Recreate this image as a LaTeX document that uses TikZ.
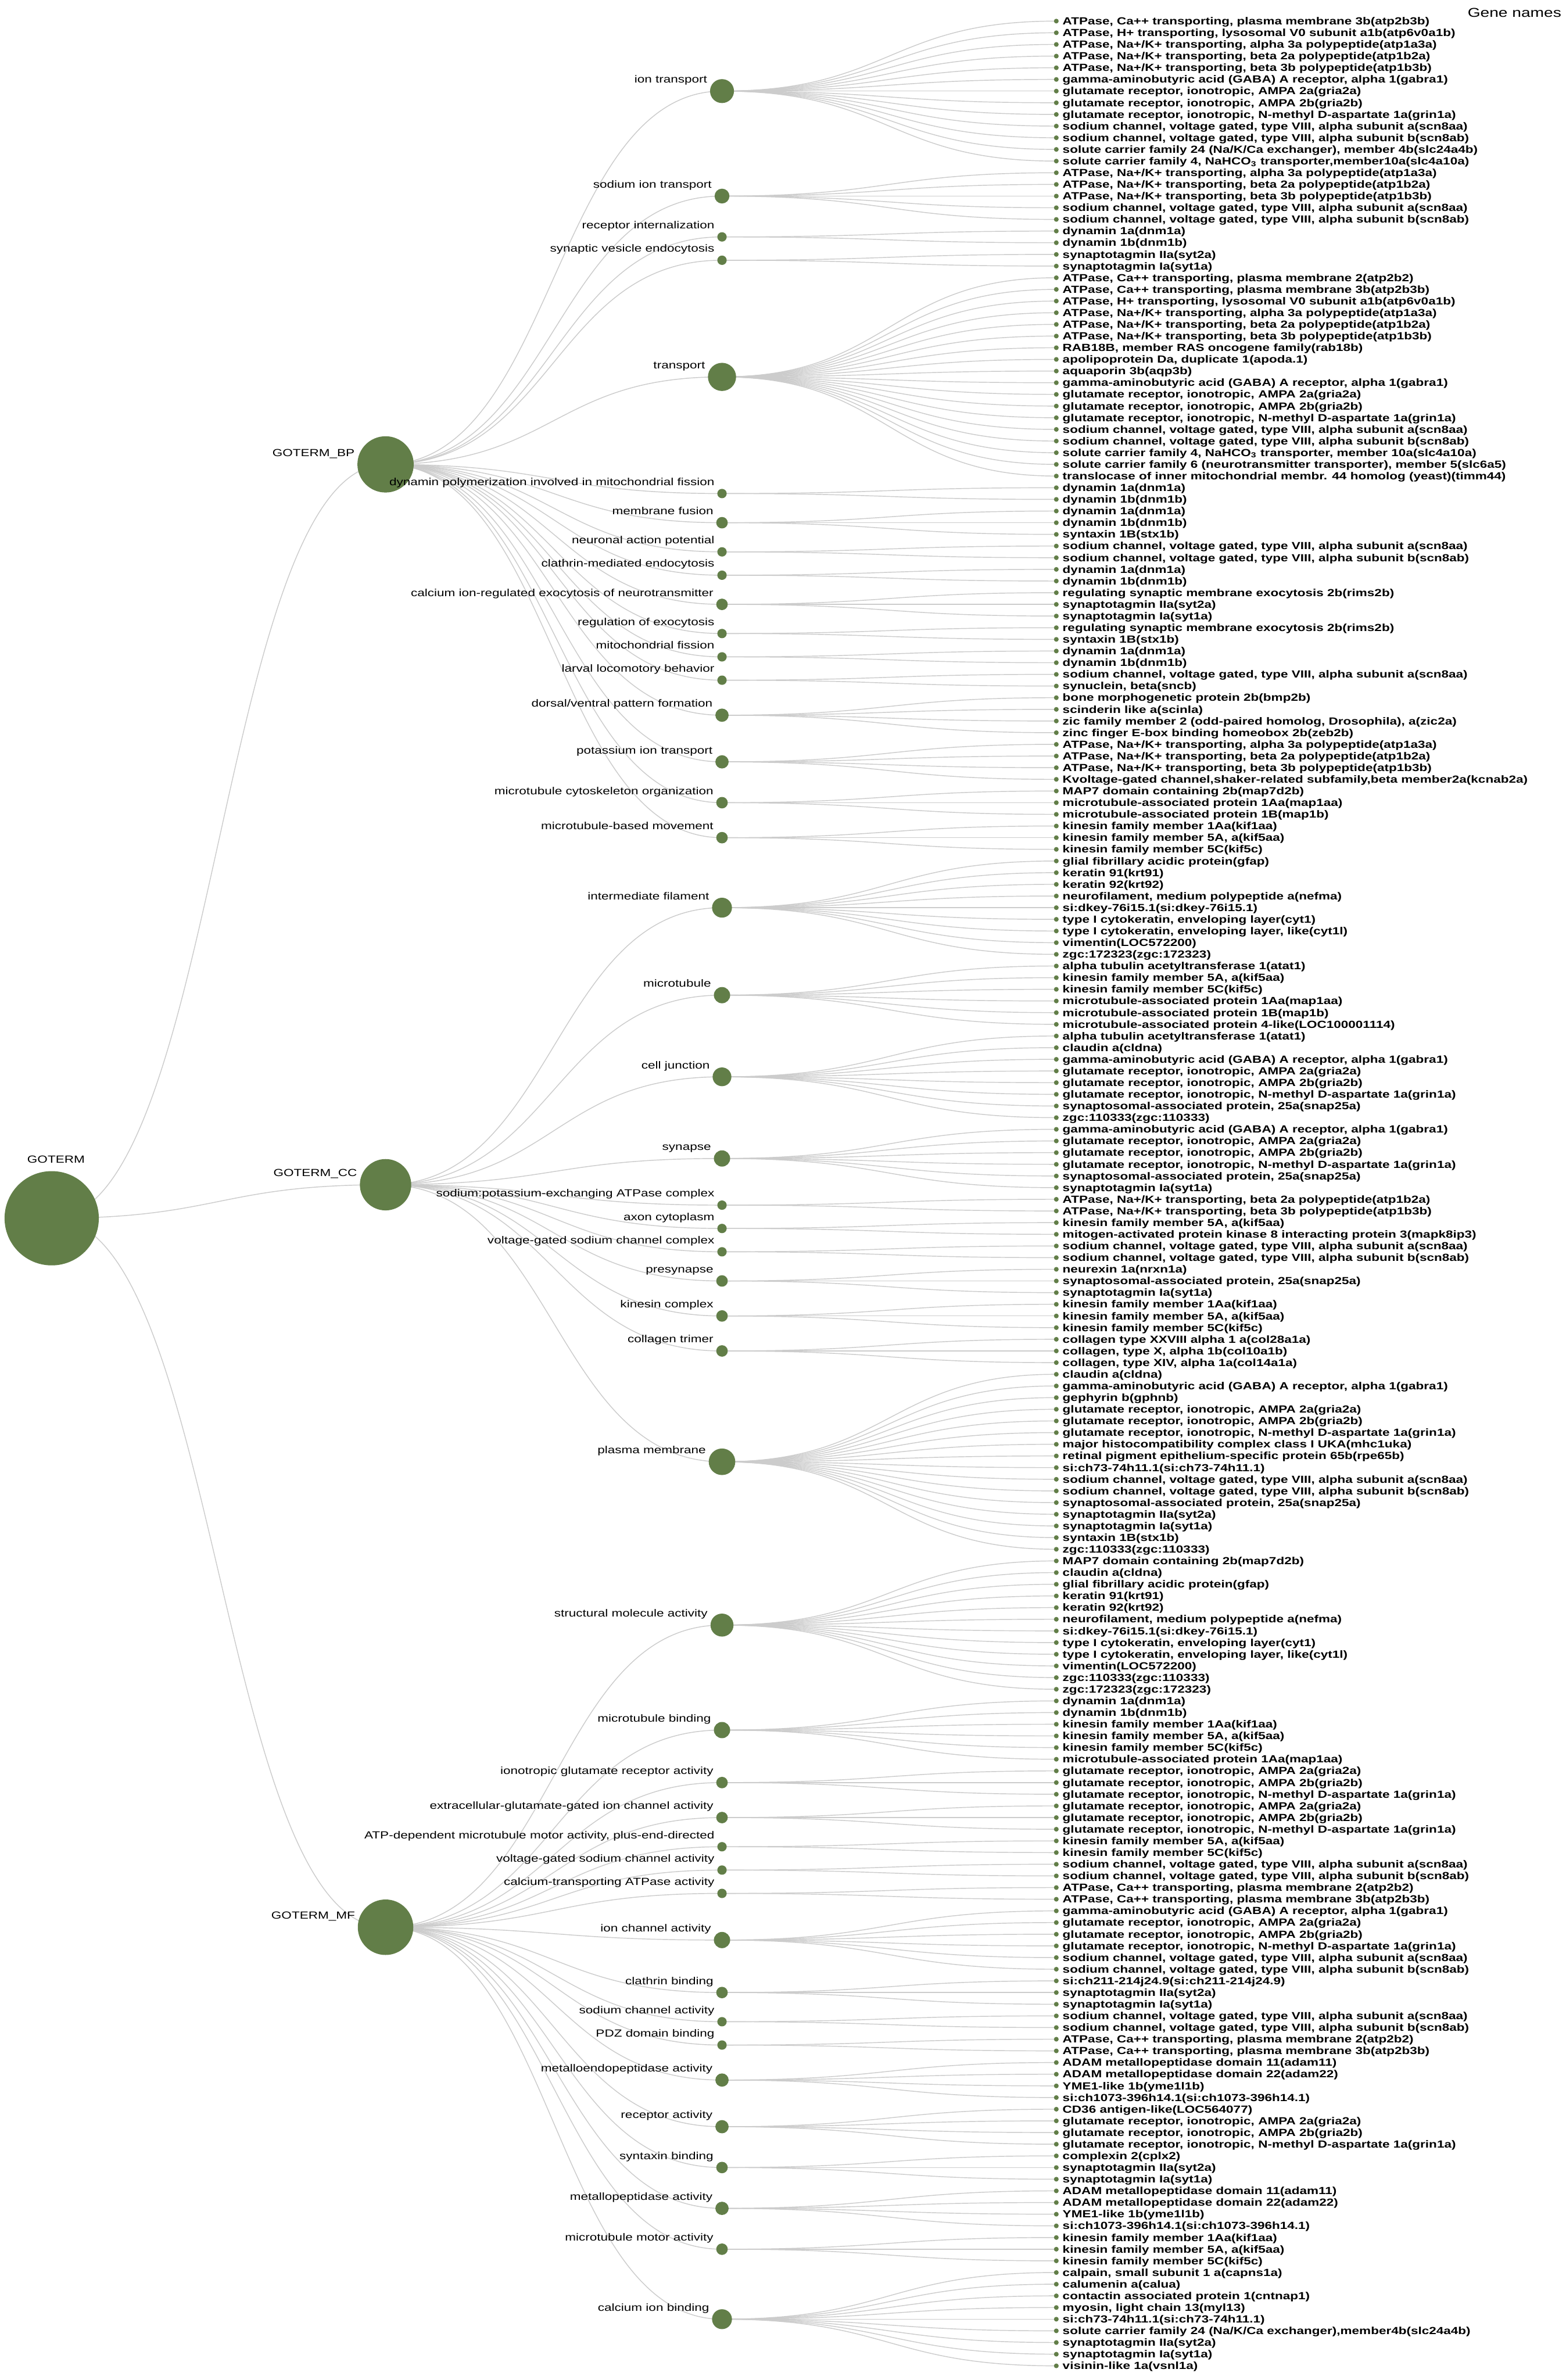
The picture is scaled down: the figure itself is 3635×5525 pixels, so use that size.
\documentclass[tikz,border=0pt]{standalone}
\usepackage{fontspec}
\newfontfamily\gofont[FakeStretch=1.27]{Liberation Sans}
\usetikzlibrary{calc,backgrounds}
\definecolor{nodegreen}{RGB}{98,126,72}
\definecolor{linkgray}{RGB}{204,204,204}
\newcounter{generow}
\tikzset{
  term/.style={circle, fill=nodegreen, inner sep=0pt},
  gene/.style={circle, fill=nodegreen, inner sep=0pt, minimum size=0.11cm},
  termlabel/.style={anchor=base east, inner sep=0pt, font=\gofont\fontsize{6.8}{8}\selectfont},
  genelabel/.style={anchor=base west, inner sep=0pt, font=\gofont\bfseries\fontsize{6.8}{8}\selectfont},
  link/.style={draw=linkgray, line width=0.55pt},
}
% y of gene row #1
\newcommand\rowy[1]{49+27.08*(#1)}
% horizontal diagonal between two nodes
\newcommand\twig[2]{%
  \draw[link] let \p1=(#1.center), \p2=(#2.center) in
    (\p1) .. controls ({(\x1+\x2)/2},\y1) and ({(\x1+\x2)/2},\y2) .. (\p2);}
% one GO term: name, label, parent, genes
\newcommand\goterm[4]{%
  \edef\firstrow{\arabic{generow}}%
  \foreach \g in {#4}{%
    \node[gene] (g\arabic{generow}) at (2452,{\rowy{\arabic{generow}}}) {};
    \node[genelabel] at (2466,{\rowy{\arabic{generow}}+8.4}) {\g};
    \stepcounter{generow}}%
  \pgfmathtruncatemacro\lastrow{\arabic{generow}-1}%
  \pgfmathsetmacro\termrad{7.7*sqrt(\arabic{generow}-\firstrow)}%
  \node[term, minimum size=2*\termrad*0.01cm] (#1) at (1676,{\rowy{(\firstrow+\lastrow)/2}}) {};
  \node[termlabel] at ({1676-\termrad-6},{\rowy{(\firstrow+\lastrow)/2}-19}) {#2};
  \begin{scope}[on background layer]
    \twig{#3}{#1}
    \foreach \k in {\firstrow,...,\lastrow}{\twig{#1}{g\k}}
  \end{scope}}

\begin{document}
\begin{tikzpicture}[x=0.01cm,y=-0.01cm]
\useasboundingbox (0,0) rectangle (3635,5525);
\begin{scope}[on background layer]
  \fill[white] (0,0) rectangle (3635,5525);
\end{scope}

\node[anchor=base east, inner sep=0pt, font=\gofont\fontsize{8.5}{10}\selectfont] (header) at (3625,40) {Gene names};

% root and the three branches
\node[term, minimum size=2*109.4*0.01cm] (goterm) at (120,{\rowy{102.625}}) {};
\node[anchor=base, inner sep=0pt, font=\gofont\fontsize{6.8}{8}\selectfont] at (130,{\rowy{102.625}-128}) {GOTERM};
\node[term, minimum size=2*65.3*0.01cm] (bp) at (895,{\rowy{38}}) {};
\node[termlabel] at ({895-65.3-6},{\rowy{38}-19}) {GOTERM\_BP};
\node[term, minimum size=2*59.6*0.01cm] (cc) at (895,{\rowy{99.75}}) {};
\node[termlabel] at ({895-59.6-6},{\rowy{99.75}-19}) {GOTERM\_CC};
\node[term, minimum size=2*64.4*0.01cm] (mf) at (895,{\rowy{163.4}}) {};
\node[termlabel] at ({895-64.4-6},{\rowy{163.4}-19}) {GOTERM\_MF};
\begin{scope}[on background layer]
  \twig{goterm}{bp}
  \twig{goterm}{cc}
  \twig{goterm}{mf}
\end{scope}

% biological process
\goterm{iontr}{ion transport}{bp}{
  {ATPase, Ca++ transporting, plasma membrane 3b(atp2b3b)},
  {ATPase, H+ transporting, lysosomal V0 subunit a1b(atp6v0a1b)},
  {ATPase, Na+/K+ transporting, alpha 3a polypeptide(atp1a3a)},
  {ATPase, Na+/K+ transporting, beta 2a polypeptide(atp1b2a)},
  {ATPase, Na+/K+ transporting, beta 3b polypeptide(atp1b3b)},
  {gamma-aminobutyric acid (GABA) A receptor, alpha 1(gabra1)},
  {glutamate receptor, ionotropic, AMPA 2a(gria2a)},
  {glutamate receptor, ionotropic, AMPA 2b(gria2b)},
  {glutamate receptor, ionotropic, N-methyl D-aspartate 1a(grin1a)},
  {sodium channel, voltage gated, type VIII, alpha subunit a(scn8aa)},
  {sodium channel, voltage gated, type VIII, alpha subunit b(scn8ab)},
  {solute carrier family 24 (Na/K/Ca exchanger), member 4b(slc24a4b)},
  {solute carrier family 4, NaHCO\textsubscript{3} transporter,member10a(slc4a10a)}}
\goterm{natr}{sodium ion transport}{bp}{
  {ATPase, Na+/K+ transporting, alpha 3a polypeptide(atp1a3a)},
  {ATPase, Na+/K+ transporting, beta 2a polypeptide(atp1b2a)},
  {ATPase, Na+/K+ transporting, beta 3b polypeptide(atp1b3b)},
  {sodium channel, voltage gated, type VIII, alpha subunit a(scn8aa)},
  {sodium channel, voltage gated, type VIII, alpha subunit b(scn8ab)}}
\goterm{recint}{receptor internalization}{bp}{
  {dynamin 1a(dnm1a)}, {dynamin 1b(dnm1b)}}
\goterm{vesend}{synaptic vesicle endocytosis}{bp}{
  {synaptotagmin IIa(syt2a)}, {synaptotagmin Ia(syt1a)}}
\goterm{transp}{transport}{bp}{
  {ATPase, Ca++ transporting, plasma membrane 2(atp2b2)},
  {ATPase, Ca++ transporting, plasma membrane 3b(atp2b3b)},
  {ATPase, H+ transporting, lysosomal V0 subunit a1b(atp6v0a1b)},
  {ATPase, Na+/K+ transporting, alpha 3a polypeptide(atp1a3a)},
  {ATPase, Na+/K+ transporting, beta 2a polypeptide(atp1b2a)},
  {ATPase, Na+/K+ transporting, beta 3b polypeptide(atp1b3b)},
  {RAB18B, member RAS oncogene family(rab18b)},
  {apolipoprotein Da, duplicate 1(apoda.1)},
  {aquaporin 3b(aqp3b)},
  {gamma-aminobutyric acid (GABA) A receptor, alpha 1(gabra1)},
  {glutamate receptor, ionotropic, AMPA 2a(gria2a)},
  {glutamate receptor, ionotropic, AMPA 2b(gria2b)},
  {glutamate receptor, ionotropic, N-methyl D-aspartate 1a(grin1a)},
  {sodium channel, voltage gated, type VIII, alpha subunit a(scn8aa)},
  {sodium channel, voltage gated, type VIII, alpha subunit b(scn8ab)},
  {solute carrier family 4, NaHCO\textsubscript{3} transporter, member 10a(slc4a10a)},
  {solute carrier family 6 (neurotransmitter transporter), member 5(slc6a5)},
  {translocase of inner mitochondrial membr. 44 homolog (yeast)(timm44)}}
\goterm{dynpol}{dynamin polymerization involved in mitochondrial fission}{bp}{
  {dynamin 1a(dnm1a)}, {dynamin 1b(dnm1b)}}
\goterm{memfus}{membrane fusion}{bp}{
  {dynamin 1a(dnm1a)}, {dynamin 1b(dnm1b)}, {syntaxin 1B(stx1b)}}
\goterm{neurap}{neuronal action potential}{bp}{
  {sodium channel, voltage gated, type VIII, alpha subunit a(scn8aa)},
  {sodium channel, voltage gated, type VIII, alpha subunit b(scn8ab)}}
\goterm{clathr}{clathrin-mediated endocytosis}{bp}{
  {dynamin 1a(dnm1a)}, {dynamin 1b(dnm1b)}}
\goterm{caexo}{calcium ion-regulated exocytosis of neurotransmitter}{bp}{
  {regulating synaptic membrane exocytosis 2b(rims2b)},
  {synaptotagmin IIa(syt2a)}, {synaptotagmin Ia(syt1a)}}
\goterm{regexo}{regulation of exocytosis}{bp}{
  {regulating synaptic membrane exocytosis 2b(rims2b)}, {syntaxin 1B(stx1b)}}
\goterm{mitofis}{mitochondrial fission}{bp}{
  {dynamin 1a(dnm1a)}, {dynamin 1b(dnm1b)}}
\goterm{larval}{larval locomotory behavior}{bp}{
  {sodium channel, voltage gated, type VIII, alpha subunit a(scn8aa)},
  {synuclein, beta(sncb)}}
\goterm{dorsven}{dorsal/ventral pattern formation}{bp}{
  {bone morphogenetic protein 2b(bmp2b)},
  {scinderin like a(scinla)},
  {zic family member 2 (odd-paired homolog, Drosophila), a(zic2a)},
  {zinc finger E-box binding homeobox 2b(zeb2b)}}
\goterm{ktr}{potassium ion transport}{bp}{
  {ATPase, Na+/K+ transporting, alpha 3a polypeptide(atp1a3a)},
  {ATPase, Na+/K+ transporting, beta 2a polypeptide(atp1b2a)},
  {ATPase, Na+/K+ transporting, beta 3b polypeptide(atp1b3b)},
  {Kvoltage-gated channel,shaker-related subfamily,beta member2a(kcnab2a)}}
\goterm{mtorg}{microtubule cytoskeleton organization}{bp}{
  {MAP7 domain containing 2b(map7d2b)},
  {microtubule-associated protein 1Aa(map1aa)},
  {microtubule-associated protein 1B(map1b)}}
\goterm{mtmove}{microtubule-based movement}{bp}{
  {kinesin family member 1Aa(kif1aa)},
  {kinesin family member 5A, a(kif5aa)},
  {kinesin family member 5C(kif5c)}}

% cellular component
\goterm{interf}{intermediate filament}{cc}{
  {glial fibrillary acidic protein(gfap)},
  {keratin 91(krt91)}, {keratin 92(krt92)},
  {neurofilament, medium polypeptide a(nefma)},
  {si:dkey-76i15.1(si:dkey-76i15.1)},
  {type I cytokeratin, enveloping layer(cyt1)},
  {type I cytokeratin, enveloping layer, like(cyt1l)},
  {vimentin(LOC572200)},
  {zgc:172323(zgc:172323)}}
\goterm{mtub}{microtubule}{cc}{
  {alpha tubulin acetyltransferase 1(atat1)},
  {kinesin family member 5A, a(kif5aa)},
  {kinesin family member 5C(kif5c)},
  {microtubule-associated protein 1Aa(map1aa)},
  {microtubule-associated protein 1B(map1b)},
  {microtubule-associated protein 4-like(LOC100001114)}}
\goterm{celljn}{cell junction}{cc}{
  {alpha tubulin acetyltransferase 1(atat1)},
  {claudin a(cldna)},
  {gamma-aminobutyric acid (GABA) A receptor, alpha 1(gabra1)},
  {glutamate receptor, ionotropic, AMPA 2a(gria2a)},
  {glutamate receptor, ionotropic, AMPA 2b(gria2b)},
  {glutamate receptor, ionotropic, N-methyl D-aspartate 1a(grin1a)},
  {synaptosomal-associated protein, 25a(snap25a)},
  {zgc:110333(zgc:110333)}}
\goterm{synapse}{synapse}{cc}{
  {gamma-aminobutyric acid (GABA) A receptor, alpha 1(gabra1)},
  {glutamate receptor, ionotropic, AMPA 2a(gria2a)},
  {glutamate receptor, ionotropic, AMPA 2b(gria2b)},
  {glutamate receptor, ionotropic, N-methyl D-aspartate 1a(grin1a)},
  {synaptosomal-associated protein, 25a(snap25a)},
  {synaptotagmin Ia(syt1a)}}
\goterm{naka}{sodium:potassium-exchanging ATPase complex}{cc}{
  {ATPase, Na+/K+ transporting, beta 2a polypeptide(atp1b2a)},
  {ATPase, Na+/K+ transporting, beta 3b polypeptide(atp1b3b)}}
\goterm{axcyt}{axon cytoplasm}{cc}{
  {kinesin family member 5A, a(kif5aa)},
  {mitogen-activated protein kinase 8 interacting protein 3(mapk8ip3)}}
\goterm{vgscc}{voltage-gated sodium channel complex}{cc}{
  {sodium channel, voltage gated, type VIII, alpha subunit a(scn8aa)},
  {sodium channel, voltage gated, type VIII, alpha subunit b(scn8ab)}}
\goterm{presyn}{presynapse}{cc}{
  {neurexin 1a(nrxn1a)},
  {synaptosomal-associated protein, 25a(snap25a)},
  {synaptotagmin Ia(syt1a)}}
\goterm{kincx}{kinesin complex}{cc}{
  {kinesin family member 1Aa(kif1aa)},
  {kinesin family member 5A, a(kif5aa)},
  {kinesin family member 5C(kif5c)}}
\goterm{coll}{collagen trimer}{cc}{
  {collagen type XXVIII alpha 1 a(col28a1a)},
  {collagen, type X, alpha 1b(col10a1b)},
  {collagen, type XIV, alpha 1a(col14a1a)}}
\goterm{plasm}{plasma membrane}{cc}{
  {claudin a(cldna)},
  {gamma-aminobutyric acid (GABA) A receptor, alpha 1(gabra1)},
  {gephyrin b(gphnb)},
  {glutamate receptor, ionotropic, AMPA 2a(gria2a)},
  {glutamate receptor, ionotropic, AMPA 2b(gria2b)},
  {glutamate receptor, ionotropic, N-methyl D-aspartate 1a(grin1a)},
  {major histocompatibility complex class I UKA(mhc1uka)},
  {retinal pigment epithelium-specific protein 65b(rpe65b)},
  {si:ch73-74h11.1(si:ch73-74h11.1)},
  {sodium channel, voltage gated, type VIII, alpha subunit a(scn8aa)},
  {sodium channel, voltage gated, type VIII, alpha subunit b(scn8ab)},
  {synaptosomal-associated protein, 25a(snap25a)},
  {synaptotagmin IIa(syt2a)},
  {synaptotagmin Ia(syt1a)},
  {syntaxin 1B(stx1b)},
  {zgc:110333(zgc:110333)}}

% molecular function
\goterm{structm}{structural molecule activity}{mf}{
  {MAP7 domain containing 2b(map7d2b)},
  {claudin a(cldna)},
  {glial fibrillary acidic protein(gfap)},
  {keratin 91(krt91)}, {keratin 92(krt92)},
  {neurofilament, medium polypeptide a(nefma)},
  {si:dkey-76i15.1(si:dkey-76i15.1)},
  {type I cytokeratin, enveloping layer(cyt1)},
  {type I cytokeratin, enveloping layer, like(cyt1l)},
  {vimentin(LOC572200)},
  {zgc:110333(zgc:110333)},
  {zgc:172323(zgc:172323)}}
\goterm{mtbind}{microtubule binding}{mf}{
  {dynamin 1a(dnm1a)}, {dynamin 1b(dnm1b)},
  {kinesin family member 1Aa(kif1aa)},
  {kinesin family member 5A, a(kif5aa)},
  {kinesin family member 5C(kif5c)},
  {microtubule-associated protein 1Aa(map1aa)}}
\goterm{iglur}{ionotropic glutamate receptor activity}{mf}{
  {glutamate receptor, ionotropic, AMPA 2a(gria2a)},
  {glutamate receptor, ionotropic, AMPA 2b(gria2b)},
  {glutamate receptor, ionotropic, N-methyl D-aspartate 1a(grin1a)}}
\goterm{exglu}{extracellular-glutamate-gated ion channel activity}{mf}{
  {glutamate receptor, ionotropic, AMPA 2a(gria2a)},
  {glutamate receptor, ionotropic, AMPA 2b(gria2b)},
  {glutamate receptor, ionotropic, N-methyl D-aspartate 1a(grin1a)}}
\goterm{atpmt}{ATP-dependent microtubule motor activity, plus-end-directed}{mf}{
  {kinesin family member 5A, a(kif5aa)},
  {kinesin family member 5C(kif5c)}}
\goterm{vgsca}{voltage-gated sodium channel activity}{mf}{
  {sodium channel, voltage gated, type VIII, alpha subunit a(scn8aa)},
  {sodium channel, voltage gated, type VIII, alpha subunit b(scn8ab)}}
\goterm{catpase}{calcium-transporting ATPase activity}{mf}{
  {ATPase, Ca++ transporting, plasma membrane 2(atp2b2)},
  {ATPase, Ca++ transporting, plasma membrane 3b(atp2b3b)}}
\goterm{ionch}{ion channel activity}{mf}{
  {gamma-aminobutyric acid (GABA) A receptor, alpha 1(gabra1)},
  {glutamate receptor, ionotropic, AMPA 2a(gria2a)},
  {glutamate receptor, ionotropic, AMPA 2b(gria2b)},
  {glutamate receptor, ionotropic, N-methyl D-aspartate 1a(grin1a)},
  {sodium channel, voltage gated, type VIII, alpha subunit a(scn8aa)},
  {sodium channel, voltage gated, type VIII, alpha subunit b(scn8ab)}}
\goterm{clbind}{clathrin binding}{mf}{
  {si:ch211-214j24.9(si:ch211-214j24.9)},
  {synaptotagmin IIa(syt2a)}, {synaptotagmin Ia(syt1a)}}
\goterm{nach}{sodium channel activity}{mf}{
  {sodium channel, voltage gated, type VIII, alpha subunit a(scn8aa)},
  {sodium channel, voltage gated, type VIII, alpha subunit b(scn8ab)}}
\goterm{pdz}{PDZ domain binding}{mf}{
  {ATPase, Ca++ transporting, plasma membrane 2(atp2b2)},
  {ATPase, Ca++ transporting, plasma membrane 3b(atp2b3b)}}
\goterm{metendo}{metalloendopeptidase activity}{mf}{
  {ADAM metallopeptidase domain 11(adam11)},
  {ADAM metallopeptidase domain 22(adam22)},
  {YME1-like 1b(yme1l1b)},
  {si:ch1073-396h14.1(si:ch1073-396h14.1)}}
\goterm{recact}{receptor activity}{mf}{
  {CD36 antigen-like(LOC564077)},
  {glutamate receptor, ionotropic, AMPA 2a(gria2a)},
  {glutamate receptor, ionotropic, AMPA 2b(gria2b)},
  {glutamate receptor, ionotropic, N-methyl D-aspartate 1a(grin1a)}}
\goterm{stxbind}{syntaxin binding}{mf}{
  {complexin 2(cplx2)},
  {synaptotagmin IIa(syt2a)}, {synaptotagmin Ia(syt1a)}}
\goterm{metpep}{metallopeptidase activity}{mf}{
  {ADAM metallopeptidase domain 11(adam11)},
  {ADAM metallopeptidase domain 22(adam22)},
  {YME1-like 1b(yme1l1b)},
  {si:ch1073-396h14.1(si:ch1073-396h14.1)}}
\goterm{mtmotor}{microtubule motor activity}{mf}{
  {kinesin family member 1Aa(kif1aa)},
  {kinesin family member 5A, a(kif5aa)},
  {kinesin family member 5C(kif5c)}}
\goterm{cabind}{calcium ion binding}{mf}{
  {calpain, small subunit 1 a(capns1a)},
  {calumenin a(calua)},
  {contactin associated protein 1(cntnap1)},
  {myosin, light chain 13(myl13)},
  {si:ch73-74h11.1(si:ch73-74h11.1)},
  {solute carrier family 24 (Na/K/Ca exchanger),member4b(slc24a4b)},
  {synaptotagmin IIa(syt2a)}, {synaptotagmin Ia(syt1a)},
  {visinin-like 1a(vsnl1a)}}
\end{tikzpicture}
\end{document}
